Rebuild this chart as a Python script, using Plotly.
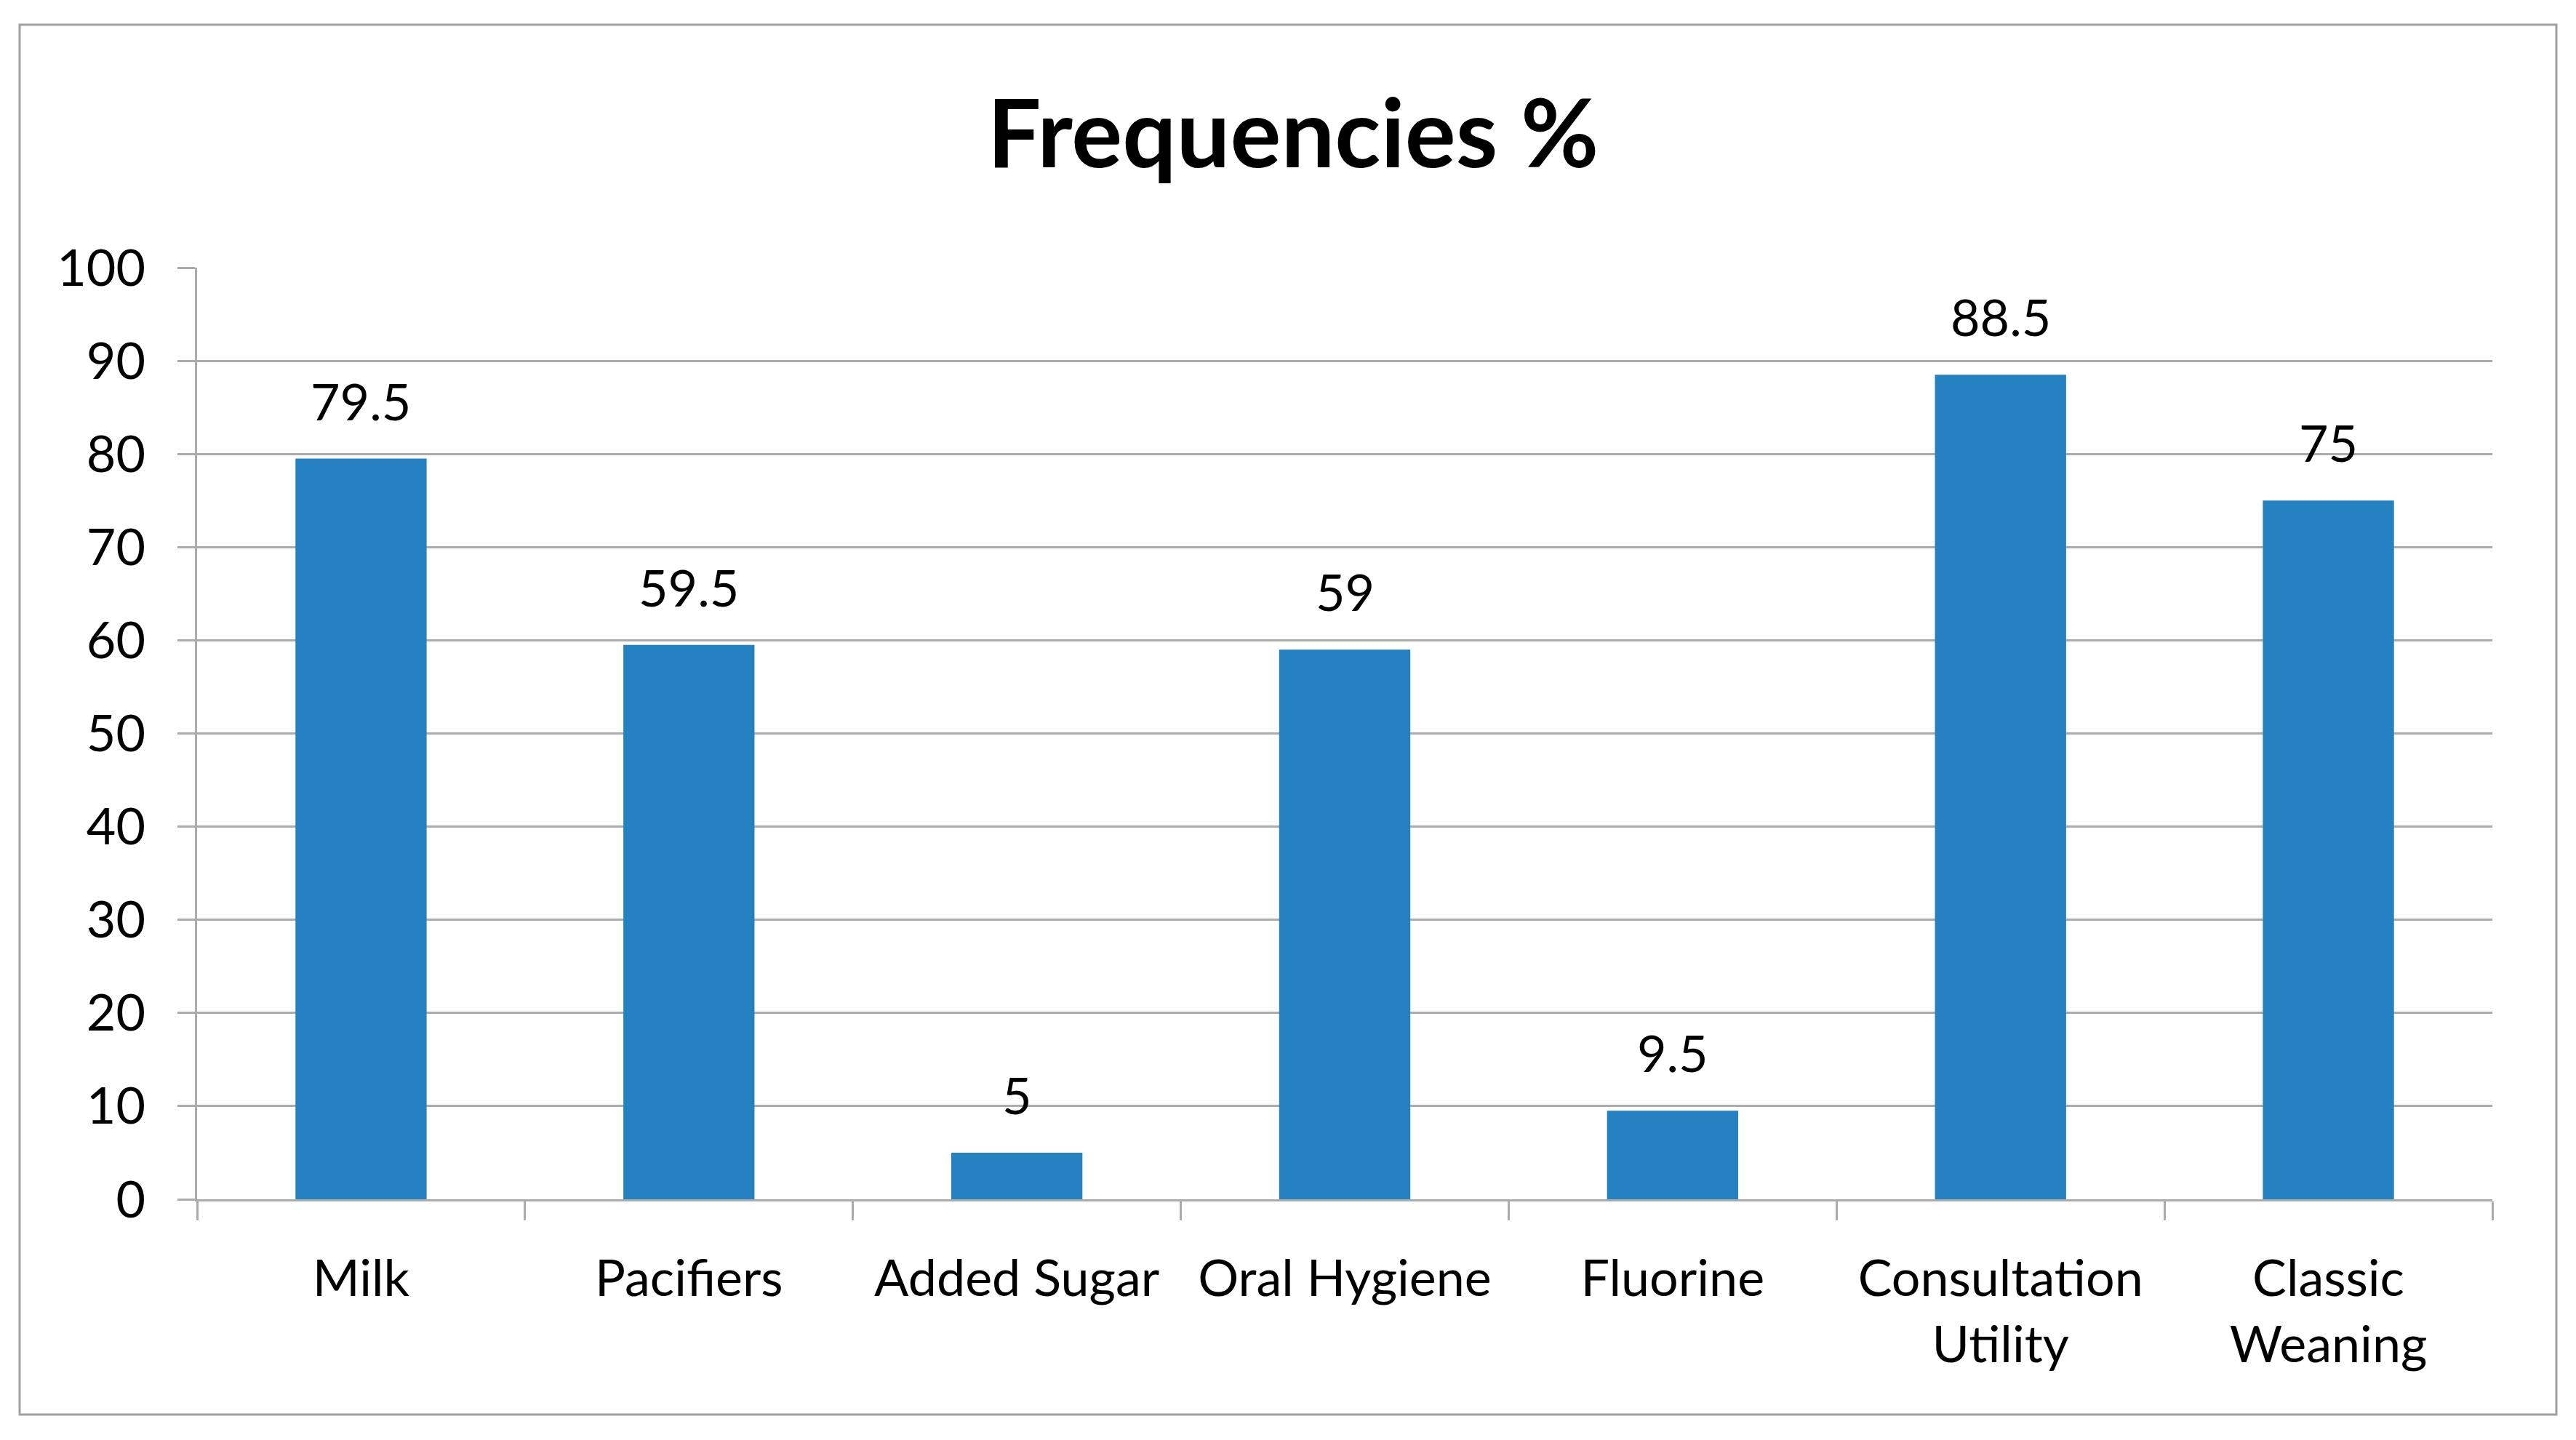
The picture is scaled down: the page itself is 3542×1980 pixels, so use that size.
import plotly.graph_objects as go

categories = ["Milk", "Pacifiers", "Added Sugar", "Oral Hygiene", "Fluorine",
              "Consultation<br>Utility", "Classic<br>Weaning"]
values = [79.5, 59.5, 5, 59, 9.5, 88.5, 75]
value_labels = ["79.5", "59.5", "5", "59", "9.5", "88.5", "75"]
y_ticks = [0, 10, 20, 30, 40, 50, 60, 70, 80, 90, 100]

OFF = 8  # page body margin of the html page
W, H = 3542 - OFF, 1980 - OFF
L, R, T, B = 271 - OFF, 3427 - OFF, 368 - OFF, 1649 - OFF
FONT = "Lato"
GRID = "#ABABAB"
BAR = "#2681C0"

fig = go.Figure()
fig.add_trace(go.Bar(x=categories, y=values, marker=dict(color=BAR, line=dict(width=0)),
                     hoverinfo="skip"))

for c, v, t in zip(categories, values, value_labels):
    fig.add_annotation(x=c, y=v, text=t, showarrow=False, yanchor="bottom",
                       yshift=36, font=dict(family=FONT, size=70, color="#000000"))

pw, ph = R - L, B - T
fig.add_shape(type="rect", xref="paper", yref="paper",
              x0=(27 - OFF - L) / pw, x1=(3515 - OFF - L) / pw,
              y0=(B - (1945 - OFF)) / ph, y1=(B - (34 - OFF)) / ph,
              line=dict(color="#A0A0A0", width=3), fillcolor="rgba(0,0,0,0)", layer="below")

fig.update_layout(
    width=W, height=H,
    margin=dict(l=L, r=W - R, t=T, b=H - B, pad=0),
    paper_bgcolor="white", plot_bgcolor="white",
    bargap=0.6, showlegend=False,
    title=dict(text="<b>Frequencies %</b>", x=(1778 - OFF) / W, xanchor="center",
               xref="container",
               y=1 - (184 - OFF) / H, yanchor="middle", yref="container",
               font=dict(family=FONT, size=131, color="#000000")),
    font=dict(family=FONT, size=70, color="#000000"),
)

fig.update_xaxes(
    showline=True, linecolor=GRID, linewidth=3,
    ticks="outside", tickson="boundaries", ticklen=26, tickwidth=3, tickcolor=GRID,
    showgrid=False, tickfont=dict(family=FONT, size=70, color="#000000"),
    ticklabelstandoff=46,
)
fig.update_yaxes(
    range=[0, 100], tickvals=y_ticks, ticktext=[str(v) for v in y_ticks],
    showline=True, linecolor=GRID, linewidth=3,
    ticks="outside", ticklen=24, tickwidth=3, tickcolor=GRID,
    showgrid=True, gridcolor=GRID, gridwidth=3, zeroline=False,
    tickfont=dict(family=FONT, size=70, color="#000000"),
    ticklabelstandoff=30,
)

fig.write_html("out.html")
